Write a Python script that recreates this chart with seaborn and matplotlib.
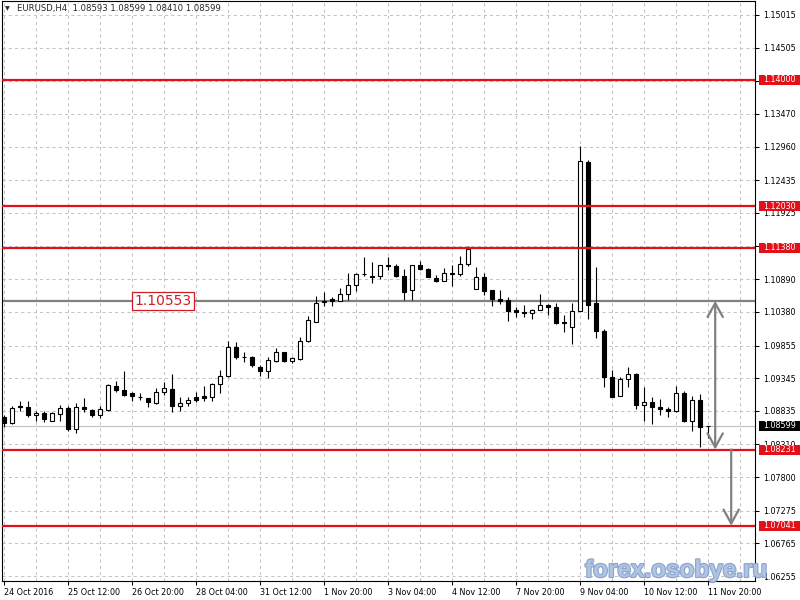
import numpy as np
import pandas as pd
import matplotlib
matplotlib.use("Agg")
import matplotlib.pyplot as plt
import matplotlib.transforms as mtransforms
import matplotlib.patheffects as pe
from matplotlib.patches import FancyArrowPatch, Rectangle
import seaborn as sns

# EURUSD H4 candles, 24 Oct 04:00 -> 11 Nov 20:00
opens = [1.08744, 1.08651, 1.08908, 1.08900, 1.08771, 1.08807, 1.08682, 1.08786, 1.08880, 1.08552,
         1.08900, 1.08848, 1.08770, 1.08853, 1.09228, 1.09161, 1.09108, 1.09048, 1.09036, 1.08958,
         1.09124, 1.09177, 1.08911, 1.08952, 1.09046, 1.09067, 1.09056, 1.09254, 1.09384, 1.09837,
         1.09683, 1.09681, 1.09525, 1.09451, 1.09607, 1.09759, 1.09607, 1.09645, 1.09920, 1.10216,
         1.10540, 1.10582, 1.10555, 1.10660, 1.10800, 1.10975, 1.10946, 1.10946, 1.11117, 1.11101,
         1.10946, 1.10722, 1.11112, 1.11050, 1.10909, 1.10856, 1.10987, 1.10972, 1.11128, 1.10737,
         1.10930, 1.10722, 1.10582, 1.10566, 1.10410, 1.10383, 1.10357, 1.10410, 1.10493, 1.10461,
         1.10227, 1.10138, 1.10388, 1.12724, 1.10513, 1.10087, 1.09369, 1.09072, 1.09333, 1.09411,
         1.08927, 1.08978, 1.08900, 1.08869, 1.08827, 1.09114, 1.08671, 1.09005, 1.08593]
highs = [1.08775, 1.08911, 1.08983, 1.08983, 1.08827, 1.08838, 1.08822, 1.08931, 1.08916, 1.08963,
         1.09036, 1.08864, 1.08916, 1.09254, 1.09296, 1.09462, 1.09124, 1.09114, 1.09041, 1.09192,
         1.09286, 1.09405, 1.09046, 1.09046, 1.09124, 1.09228, 1.09270, 1.09473, 1.09931, 1.09904,
         1.09748, 1.09697, 1.09556, 1.09681, 1.09817, 1.09759, 1.09681, 1.09993, 1.10321, 1.10633,
         1.10685, 1.10617, 1.10747, 1.10987, 1.10987, 1.11231, 1.11153, 1.11117, 1.11242, 1.11128,
         1.11050, 1.11112, 1.11179, 1.11060, 1.10950, 1.11065, 1.11117, 1.11258, 1.11414, 1.11086,
         1.10981, 1.10722, 1.10727, 1.10607, 1.10461, 1.10492, 1.10425, 1.10660, 1.10503, 1.10524,
         1.10336, 1.10513, 1.12975, 1.12751, 1.11075, 1.10113, 1.09473, 1.09369, 1.09525, 1.09421,
         1.09202, 1.09056, 1.09020, 1.08900, 1.09228, 1.09150, 1.09072, 1.09098, 1.08599]
lows = [1.08588, 1.08631, 1.08838, 1.08734, 1.08671, 1.08656, 1.08671, 1.08671, 1.08526, 1.08490,
        1.08811, 1.08744, 1.08723, 1.08838, 1.09124, 1.09061, 1.08983, 1.09010, 1.08900, 1.08943,
        1.09082, 1.08811, 1.08838, 1.08905, 1.08968, 1.08983, 1.08994, 1.09114, 1.09368, 1.09645,
        1.09592, 1.09525, 1.09384, 1.09348, 1.09603, 1.09603, 1.09587, 1.09629, 1.09904, 1.10216,
        1.10477, 1.10466, 1.10555, 1.10566, 1.10700, 1.10946, 1.10825, 1.10891, 1.11034, 1.10919,
        1.10571, 1.10571, 1.11034, 1.10919, 1.10840, 1.10856, 1.10778, 1.10946, 1.11101, 1.10737,
        1.10649, 1.10466, 1.10503, 1.10243, 1.10294, 1.10305, 1.10269, 1.10410, 1.10336, 1.10191,
        1.10060, 1.09879, 1.10388, 1.10269, 1.09973, 1.09202, 1.09046, 1.09072, 1.09202, 1.08864,
        1.08671, 1.08630, 1.08775, 1.08734, 1.08811, 1.08656, 1.08515, 1.08276, 1.08410]
closes = [1.08651, 1.08885, 1.08902, 1.08775, 1.08807, 1.08708, 1.08796, 1.08880, 1.08552, 1.08900,
          1.08858, 1.08770, 1.08864, 1.09239, 1.09161, 1.09088, 1.09067, 1.09044, 1.08968, 1.09130,
          1.09192, 1.08905, 1.08952, 1.09005, 1.09005, 1.09036, 1.09254, 1.09379, 1.09837, 1.09670,
          1.09679, 1.09556, 1.09451, 1.09629, 1.09759, 1.09607, 1.09660, 1.09931, 1.10254, 1.10524,
          1.10548, 1.10555, 1.10660, 1.10805, 1.10972, 1.10970, 1.10930, 1.11112, 1.11097, 1.10946,
          1.10685, 1.11112, 1.11050, 1.10930, 1.10856, 1.10987, 1.10972, 1.11128, 1.11362, 1.10930,
          1.10711, 1.10575, 1.10555, 1.10399, 1.10372, 1.10357, 1.10410, 1.10493, 1.10450, 1.10201,
          1.10201, 1.10399, 1.12729, 1.10493, 1.10076, 1.09369, 1.09046, 1.09333, 1.09411, 1.08927,
          1.08978, 1.08889, 1.08858, 1.08827, 1.09114, 1.08671, 1.09005, 1.08578, 1.08599]

date_labels = ["24 Oct 2016", "25 Oct 12:00", "26 Oct 20:00", "28 Oct 04:00", "31 Oct 12:00",
               "1 Nov 20:00", "3 Nov 04:00", "4 Nov 12:00", "7 Nov 20:00", "9 Nov 04:00",
               "10 Nov 12:00", "11 Nov 20:00"]
price_ticks = [1.15015, 1.14505, 1.13990, 1.13470, 1.12960, 1.12435, 1.11925, 1.11415, 1.10890,
               1.10380, 1.09855, 1.09345, 1.08835, 1.08310, 1.07800, 1.07275, 1.06765, 1.06255]
# tick labels fully covered by the level boxes in the original
hidden_ticks = [1.13990, 1.11415]
red_levels = [1.14000, 1.12030, 1.11380, 1.08231, 1.07041]
gray_level = 1.10553
last_price = 1.08599
title = "EURUSD,H4  1.08593 1.08599 1.08410 1.08599"

sns.set_style("white")
plt.rcParams['font.family'] = ['DejaVu Sans']

df = pd.DataFrame({'open': opens, 'high': highs, 'low': lows, 'close': closes})
df['bar'] = np.arange(len(df))
df['bull'] = df['close'] >= df['open']

RED = '#e3101a'
GRID = '#c4c4c4'
y_min, y_max = 1.06179, 1.15233

fig = plt.figure(figsize=(8, 6), dpi=100)
fig.patch.set_facecolor('white')
ax = fig.add_axes([2 / 800, 19 / 600, 753 / 800, 580 / 600])
ax.set_facecolor('white')
ax.set_xlim(-0.25, 93.875)
ax.set_ylim(y_min, y_max)

# grid
for x in range(0, 96, 4):
    ax.axvline(x, color=GRID, lw=0.75, ls=(0, (3, 3)), zorder=1)
for y in price_ticks:
    ax.axhline(y, color=GRID, lw=0.75, ls=(0, (3, 3)), zorder=1)

# levels
ax.axhline(last_price, color='#c0c0c0', lw=0.8, zorder=1.5)
ax.axhline(gray_level, color='#808080', lw=1.6, zorder=1.6)
for lv in red_levels:
    ax.axhline(lv, color=RED, lw=1.6, zorder=4)

# candles
ax.vlines(df['bar'], df['low'], df['high'], color='black', lw=0.8, zorder=2)
body_low = df[['open', 'close']].min(axis=1)
body_h = np.maximum((df['close'] - df['open']).abs(), 1e-6)
ax.bar(df['bar'], body_h, bottom=body_low, width=0.4,
       color=np.where(df['bull'], 'white', 'black'), edgecolor='black', linewidth=0.8, zorder=3)

# arrows
for x0, p0, p1, style in [(88.9, gray_level, red_levels[3], '<->'),
                          (90.9, red_levels[3], red_levels[4], '->')]:
    arr = FancyArrowPatch((x0, p0), (x0, p1), arrowstyle=f'{style},head_length=10,head_width=5.5',
                          mutation_scale=1, color='#808080', lw=1.6, shrinkA=0, shrinkB=0, zorder=5)
    ax.add_patch(arr)

# gray level label
ax.text(19.875, gray_level, f'{gray_level:.5f}', color='#d01c24', fontsize=10,
        ha='center', va='center', zorder=6,
        bbox=dict(boxstyle='square,pad=0.15', fc='white', ec='#d01c24', lw=0.9))

# axes & ticks
ax.yaxis.tick_right()
ax.set_yticks(price_ticks, labels=['' if v in hidden_ticks else f'{v:.5f}' for v in price_ticks])
ax.set_xticks(range(0, 89, 8), labels=date_labels, ha='left')
ax.tick_params(axis='y', right=True, left=False, length=3, width=0.75, pad=3,
               labelsize=5.8, direction='out', colors='black')
ax.tick_params(axis='x', bottom=True, length=3, width=0.75, pad=2,
               labelsize=5.8, direction='out', colors='black')
for s in ax.spines.values():
    s.set_color('black')
    s.set_linewidth(0.8)

# price boxes on the right axis
trans = mtransforms.blended_transform_factory(fig.transFigure, ax.transData)
box_h = 10 * (y_max - y_min) / 580
for lv, fc in [(lv, RED) for lv in red_levels] + [(last_price, 'black')]:
    ax.add_patch(Rectangle((759 / 800, lv - box_h / 2), 41 / 800, box_h, transform=trans,
                           fc=fc, ec='none', clip_on=False, zorder=10))
    ax.text(779.5 / 800, lv, f'{lv:.5f}', transform=trans, color='white', fontsize=5.8,
            ha='center', va='center', clip_on=False, zorder=11)

# title
fig.text(5 / 800, 1 - 9 / 600, '\u25bc', fontsize=4.5, va='center')
fig.text(17 / 800, 1 - 9 / 600, title, fontsize=6.1, va='center')

# watermark
fig.text(585 / 800, 1 - 577 / 600, 'forex.osobye.ru', fontsize=17.5, fontweight='bold',
         family=['Liberation Sans', 'DejaVu Sans'], color='#b3c7e3', alpha=0.9, va='baseline',
         path_effects=[pe.withStroke(linewidth=1.6, foreground='#7f9ccb')])

fig.savefig('out.png', dpi=100, facecolor='white')
